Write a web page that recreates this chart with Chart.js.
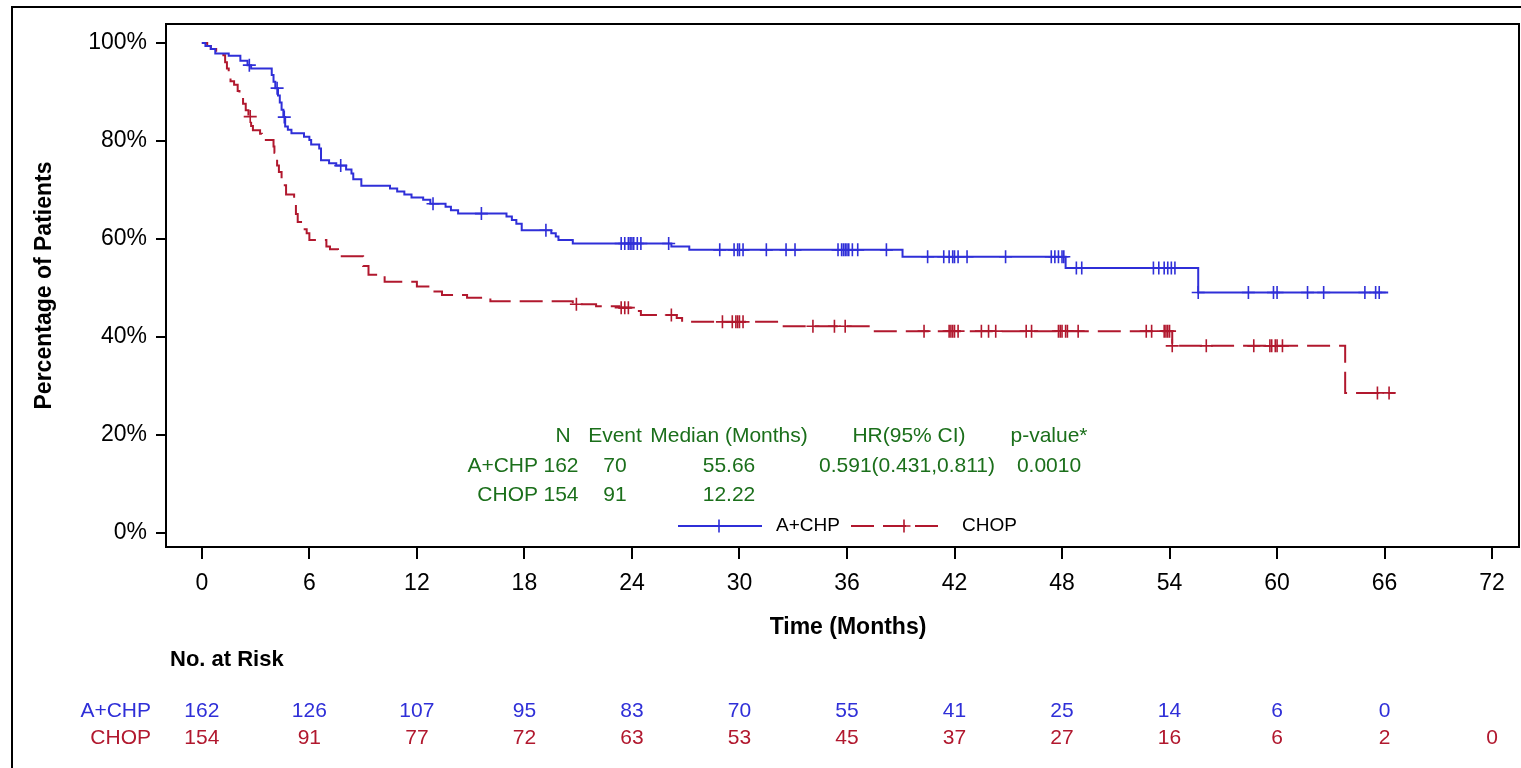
<!DOCTYPE html>
<html>
<head>
<meta charset="utf-8">
<title>Kaplan-Meier: A+CHP vs CHOP</title>
<script src="https://cdn.jsdelivr.net/npm/chart.js@4.4.1/dist/chart.umd.min.js"></script>
<style>
  html, body { margin: 0; padding: 0; background: #fff; }
  canvas { display: block; }
</style>
</head>
<body>
<canvas id="kmChart" width="1521" height="768"></canvas>
<script>
const FONT = '"Liberation Sans", Arial, Helvetica, sans-serif';
const BLUE = '#2f2fd8';
const RED = '#b1182e';
const GREEN = '#1b6f1b';

// Kaplan-Meier steps (months, % of patients)
const blueTime = [0, 0.2, 0.5, 0.75, 1.5, 2.15, 2.55, 2.75, 3.9, 4.0, 4.1, 4.25, 4.35, 4.45, 4.55, 4.65,
  4.8, 5.0, 5.7, 6.0, 6.1, 6.55, 6.65, 7.1, 7.5, 8.05, 8.35, 8.45, 8.9, 10.5, 10.9, 11.3, 11.7,
  12.35, 12.75, 13.6, 13.9, 14.3, 17.0, 17.3, 17.55, 17.85, 19.5, 19.75, 19.9, 20.7, 26.2, 27.2,
  39.1, 48.2, 55.6, 66.2];
const blueSurv = [100, 99.4, 98.8, 97.9, 97.4, 96.4, 95.5, 94.8, 93.5, 92.1, 90.8, 89.3, 87.9, 86.4, 84.9, 83.0,
  82.3, 81.6, 80.9, 80.2, 79.3, 78.5, 76.1, 75.5, 75.0, 74.2, 73.4, 72.2, 70.9, 70.3, 69.7, 69.1, 68.5,
  68.0, 67.2, 66.6, 65.9, 65.2, 64.6, 63.9, 63.1, 61.8, 61.2, 60.5, 59.8, 59.1, 58.5, 57.8,
  56.4, 54.1, 49.1, 49.1];
const blueCensor = [2.65, 4.2, 4.6, 7.75, 12.9, 15.6, 19.2, 23.4, 23.6, 23.8, 23.9, 24.0, 24.1, 24.3, 24.5,
  26.05, 28.9, 29.7, 29.9, 30.0, 30.2, 31.5, 32.6, 33.1, 35.5, 35.7, 35.8, 35.9, 36.0, 36.1, 36.3, 36.6,
  38.2, 40.5, 41.4, 41.7, 41.9, 42.0, 42.2, 42.7, 44.85, 47.4, 47.6, 47.8, 48.0, 48.1, 48.8, 49.1,
  53.1, 53.4, 53.7, 53.9, 54.1, 54.3, 55.6, 58.4, 59.8, 60.0, 61.7, 62.6, 64.9, 65.5, 65.7];

const redTime = [0, 0.3, 0.5, 0.8, 1.2, 1.3, 1.4, 1.5, 1.6, 1.8, 2.0, 2.1, 2.3, 2.45, 2.6, 2.75, 2.85,
  3.25, 3.35, 4.0, 4.05, 4.1, 4.2, 4.3, 4.45, 4.55, 4.7, 5.15, 5.25, 5.35, 5.6, 5.85, 6.0, 6.95, 7.15,
  7.6, 9.0, 9.3, 10.2, 12.0, 12.8, 13.4, 14.8, 16.1, 20.7, 22.0, 23.3, 24.2, 24.5, 26.5, 26.8,
  32.1, 37.3, 54.15, 63.8, 66.6];
const redSurv = [100, 99.4, 98.8, 98.1, 97.5, 96.1, 94.8, 93.5, 92.2, 91.5, 90.2, 88.9, 87.6, 86.3, 85.0, 83.1, 82.2,
  81.5, 80.2, 78.9, 77.6, 76.3, 75.0, 73.7, 72.3, 71.0, 69.1, 67.8, 65.1, 63.5, 62.0, 61.2, 59.8, 58.5, 57.9,
  56.5, 54.5, 52.7, 51.3, 50.3, 49.3, 48.6, 48.0, 47.3, 46.7, 46.3, 46.0, 45.3, 44.5, 43.9, 43.1,
  42.2, 41.2, 38.2, 28.6, 28.6];
const redCensor = [2.7, 20.9, 23.4, 23.6, 23.8, 26.2, 29.05, 29.6, 29.8, 29.9, 30.0, 30.2, 34.1, 35.3, 35.9,
  40.3, 41.7, 41.8, 41.9, 42.0, 42.2, 43.5, 43.9, 44.3, 46.0, 46.3, 47.8, 47.9, 48.0, 48.2, 48.3, 48.9,
  52.7, 53.0, 53.7, 53.8, 53.9, 54.0, 54.15, 56.05, 58.7, 59.6, 59.7, 59.9, 60.0, 60.3, 65.6, 66.25];

// axes
const xTicks = [0, 6, 12, 18, 24, 30, 36, 42, 48, 54, 60, 66, 72];
const yTicks = [0, 20, 40, 60, 80, 100];

// number at risk
const armNames = ['A+CHP', 'CHOP'];
const blueRisk = [162, 126, 107, 95, 83, 70, 55, 41, 25, 14, 6, 0];
const redRisk = [154, 91, 77, 72, 63, 53, 45, 37, 27, 16, 6, 2, 0];

// summary table
const statHeader = ['N', 'Event', 'Median (Months)', 'HR(95% CI)', 'p-value*'];
const armN = [162, 154];
const armEvents = [70, 91];
const armMedian = ['55.66', '12.22'];
const hrText = '0.591(0.431,0.811)';
const pValue = '0.0010';

function toPoints(times, surv) {
  return times.map((t, i) => ({ x: t, y: surv[i] }));
}

// censored marks sit on the curve: look up the step value at time t
function survAt(times, surv, t) {
  let v = surv[0];
  for (let i = 0; i < times.length; i++) {
    if (times[i] <= t) v = surv[i];
  }
  return v;
}

function censorPoints(cens, times, surv) {
  return cens.map(t => ({ x: t, y: survAt(times, surv, t) }));
}

function drawCross(ctx, x, y, r, color) {
  ctx.save();
  ctx.strokeStyle = color;
  ctx.lineWidth = 1.6;
  ctx.setLineDash([]);
  ctx.beginPath();
  ctx.moveTo(x - r, y); ctx.lineTo(x + r, y);
  ctx.moveTo(x, y - r); ctx.lineTo(x, y + r);
  ctx.stroke();
  ctx.restore();
}

const decorations = {
  id: 'decorations',
  afterDraw(chart) {
    const ctx = chart.ctx;
    const area = chart.chartArea;
    const xs = chart.scales.x;

    ctx.save();
    // outer frame
    ctx.strokeStyle = '#000';
    ctx.lineWidth = 2;
    ctx.strokeRect(12, 7, 1530, 800);

    // top and right sides of the plot box
    ctx.beginPath();
    ctx.moveTo(area.left, area.top);
    ctx.lineTo(area.right, area.top);
    ctx.lineTo(area.right, area.bottom);
    ctx.stroke();

    // axis titles
    ctx.fillStyle = '#000';
    ctx.textBaseline = 'middle';
    ctx.textAlign = 'center';
    ctx.font = 'bold 23px ' + FONT;
    ctx.fillText('Time (Months)', 848, 628);
    ctx.save();
    ctx.translate(45, (area.top + area.bottom) / 2);
    ctx.rotate(-Math.PI / 2);
    ctx.fillText('Percentage of Patients', 0, 0);
    ctx.restore();

    // summary table
    const colX = [563, 615, 729, 909, 1049];
    ctx.fillStyle = GREEN;
    ctx.font = '21px ' + FONT;
    statHeader.forEach((h, i) => ctx.fillText(h, colX[i], 436));
    const rowY = [466, 495];
    armNames.forEach((name, r) => {
      ctx.textAlign = 'right';
      ctx.fillText(name, 538, rowY[r]);
      ctx.textAlign = 'center';
      ctx.fillText(String(armN[r]), colX[0] - 2, rowY[r]);
      ctx.fillText(String(armEvents[r]), colX[1], rowY[r]);
      ctx.fillText(armMedian[r], colX[2], rowY[r]);
    });
    ctx.fillText(hrText, colX[3] - 2, rowY[0]);
    ctx.fillText(pValue, colX[4], rowY[0]);

    // legend
    const ly = 526;
    ctx.lineWidth = 1.8;
    ctx.strokeStyle = BLUE;
    ctx.beginPath();
    ctx.moveTo(678, ly); ctx.lineTo(762, ly);
    ctx.stroke();
    drawCross(ctx, 719, ly, 6.5, BLUE);
    ctx.strokeStyle = RED;
    ctx.setLineDash([23, 9]);
    ctx.beginPath();
    ctx.moveTo(851, ly); ctx.lineTo(946, ly);
    ctx.stroke();
    ctx.setLineDash([]);
    drawCross(ctx, 904, ly, 6.5, RED);
    ctx.fillStyle = '#000';
    ctx.textAlign = 'left';
    ctx.font = '19px ' + FONT;
    ctx.fillText(armNames[0], 776, ly);
    ctx.fillText(armNames[1], 962, ly);

    // number at risk
    ctx.font = 'bold 22px ' + FONT;
    ctx.fillText('No. at Risk', 170, 660);
    ctx.font = '21px ' + FONT;
    const riskRows = [[blueRisk, BLUE, 711], [redRisk, RED, 738]];
    riskRows.forEach(([vals, color, y], r) => {
      ctx.fillStyle = color;
      ctx.textAlign = 'right';
      ctx.fillText(armNames[r], 151, y);
      ctx.textAlign = 'center';
      vals.forEach((v, i) => ctx.fillText(String(v), xs.getPixelForValue(xTicks[i]), y));
    });
    ctx.restore();
  }
};

const ctx = document.getElementById('kmChart').getContext('2d');
const kmChart = new Chart(ctx, {
  type: 'line',
  data: {
    datasets: [
      {
        label: 'A+CHP',
        data: toPoints(blueTime, blueSurv),
        borderColor: BLUE,
        borderWidth: 2,
        stepped: true,
        pointRadius: 0,
        fill: false
      },
      {
        label: 'CHOP',
        data: toPoints(redTime, redSurv),
        borderColor: RED,
        borderWidth: 2,
        borderDash: [23, 9],
        stepped: true,
        pointRadius: 0,
        fill: false
      },
      {
        label: 'A+CHP censored',
        data: censorPoints(blueCensor, blueTime, blueSurv),
        showLine: false,
        pointStyle: 'cross',
        pointRadius: 6.5,
        borderColor: BLUE,
        pointBorderWidth: 1.6
      },
      {
        label: 'CHOP censored',
        data: censorPoints(redCensor, redTime, redSurv),
        showLine: false,
        pointStyle: 'cross',
        pointRadius: 6.5,
        borderColor: RED,
        pointBorderWidth: 1.6
      }
    ]
  },
  options: {
    responsive: false,
    animation: false,
    devicePixelRatio: 1,
    layout: { autoPadding: false, padding: { top: 24, right: 2, left: 0, bottom: 0 } },
    plugins: {
      legend: { display: false },
      tooltip: { enabled: false }
    },
    scales: {
      x: {
        type: 'linear',
        min: -2.0,
        max: 73.5,
        afterBuildTicks: s => { s.ticks = xTicks.map(v => ({ value: v })); },
        afterFit: s => { s.height = 221; s.paddingLeft = 0; s.paddingRight = 0; },
        grid: { drawOnChartArea: false, drawTicks: true, tickLength: 12, color: '#000', lineWidth: 2 },
        border: { display: true, color: '#000', width: 2 },
        ticks: {
          font: { family: FONT, size: 23 },
          color: '#000',
          padding: 11,
          maxRotation: 0,
          autoSkip: false
        }
      },
      y: {
        type: 'linear',
        min: -2.86,
        max: 103.9,
        afterBuildTicks: s => { s.ticks = yTicks.map(v => ({ value: v })); },
        afterFit: s => { s.width = 166; s.paddingTop = 0; s.paddingBottom = 0; },
        grid: { drawOnChartArea: false, drawTicks: true, tickLength: 10, color: '#000', lineWidth: 2 },
        border: { display: true, color: '#000', width: 2 },
        ticks: {
          font: { family: FONT, size: 23 },
          color: '#000',
          padding: 9,
          callback: v => v + '%'
        }
      }
    }
  },
  plugins: [decorations]
});
</script>
</body>
</html>
